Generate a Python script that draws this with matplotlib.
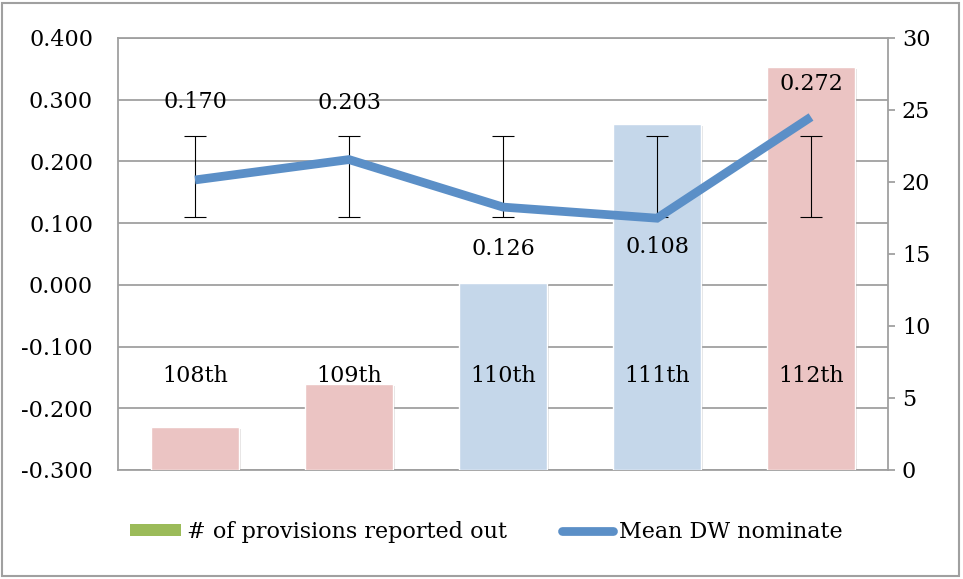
import numpy as np
import matplotlib
matplotlib.use('Agg')
import matplotlib.pyplot as plt
from matplotlib.patches import Patch, Rectangle
from matplotlib.lines import Line2D
import matplotlib.patheffects as pe

# data
congress = ['108th', '109th', '110th', '111th', '112th']
provisions = [3, 6, 13, 24, 28]
mean_dw = [0.170, 0.203, 0.126, 0.108, 0.272]
bar_colors = ['#ebc4c3', '#ebc4c3', '#c5d7ea', '#c5d7ea', '#ebc4c3']
label_offsets = [56, 41, -30, -21, 24]	# data label offsets (points), hand placed in the original

plt.rcParams['font.family'] = ['DejaVu Serif']
fs = 16
grey = '#a0a0a0'
blue = '#5b8fc7'

fig = plt.figure(figsize=(9.63, 5.79), dpi=100)
W, H = 963.0, 579.0
rect = [118 / W, (H - 470) / H, 770 / W, 432 / H]

# bottom layer: left axis + grid
ax1 = fig.add_axes(rect)
ax1.set_ylim(-0.3, 0.4)
ax1.set_yticks(np.arange(-0.3, 0.41, 0.1))
ax1.set_yticklabels(['%.3f' % v for v in np.arange(-0.3, 0.41, 0.1)], fontsize=fs)
ax1.tick_params(axis='y', length=0, pad=18)
ax1.set_xlim(-0.5, len(congress) - 0.5)
ax1.set_xticks([])
ax1.yaxis.grid(True, color=grey, linewidth=1.3)
ax1.set_axisbelow(True)
for s in ax1.spines.values():
	s.set_color(grey)
	s.set_linewidth(1.3)

# middle layer: bars on right axis
ax2 = ax1.twinx()
x = np.arange(len(congress))
bars = ax2.bar(x, provisions, width=0.57, color=bar_colors, edgecolor='white', linewidth=1.0)
for b in bars:
	b.set_path_effects([pe.SimplePatchShadow(offset=(1.5, -1.5), alpha=0.15), pe.Normal()])
ax2.set_ylim(0, 30)
ax2.set_yticks(range(0, 31, 5))
ax2.tick_params(axis='y', labelsize=fs, length=5, color=grey, width=1.3, pad=5)
for s in ax2.spines.values():
	s.set_visible(False)

# category labels inside the plot
for i, c in enumerate(congress):
	ax2.text(i, 0.2176, c, transform=ax2.get_xaxis_transform(), ha='center', va='center', fontsize=fs)

# top layer: line, error bars, data labels
ax3 = ax1.twinx()
ax3.set_ylim(-0.3, 0.4)
ax3.set_yticks([])
for s in ax3.spines.values():
	s.set_visible(False)
# Excel style standard deviation error bars: mean of series +/- 1 sd, drawn at every point
m = np.mean(mean_dw)
sd = np.std(mean_dw, ddof=1)
ax3.errorbar(x, [m] * len(x), yerr=sd, fmt='none', ecolor='black', elinewidth=0.8, capsize=8, capthick=0.8, zorder=2)
ax3.plot(x, mean_dw, color=blue, linewidth=6.3, solid_capstyle='butt', solid_joinstyle='miter', zorder=3)
for i, v in enumerate(mean_dw):
	ax3.annotate('%.3f' % v, (i, v), xytext=(0, label_offsets[i]), textcoords='offset points',
		ha='center', va='center', fontsize=fs, zorder=4)

handles = [Patch(facecolor='#9bbb59', edgecolor='none'),
	Line2D([], [], color=blue, linewidth=6.3, solid_capstyle='round')]
fig.legend(handles, ['# of provisions reported out', 'Mean DW nominate'], loc='center',
	bbox_to_anchor=(0.505, 1 - 532 / H), ncol=2, frameon=False, fontsize=fs,
	handlelength=2.3, handleheight=0.5, handletextpad=0.25, columnspacing=2.5)

fig.patches.append(Rectangle((2 / W, 3 / H), 957 / W, 573 / H, transform=fig.transFigure,
	fill=False, edgecolor='#a0a0a0', linewidth=1.5))

fig.savefig('out.png', dpi=100)
